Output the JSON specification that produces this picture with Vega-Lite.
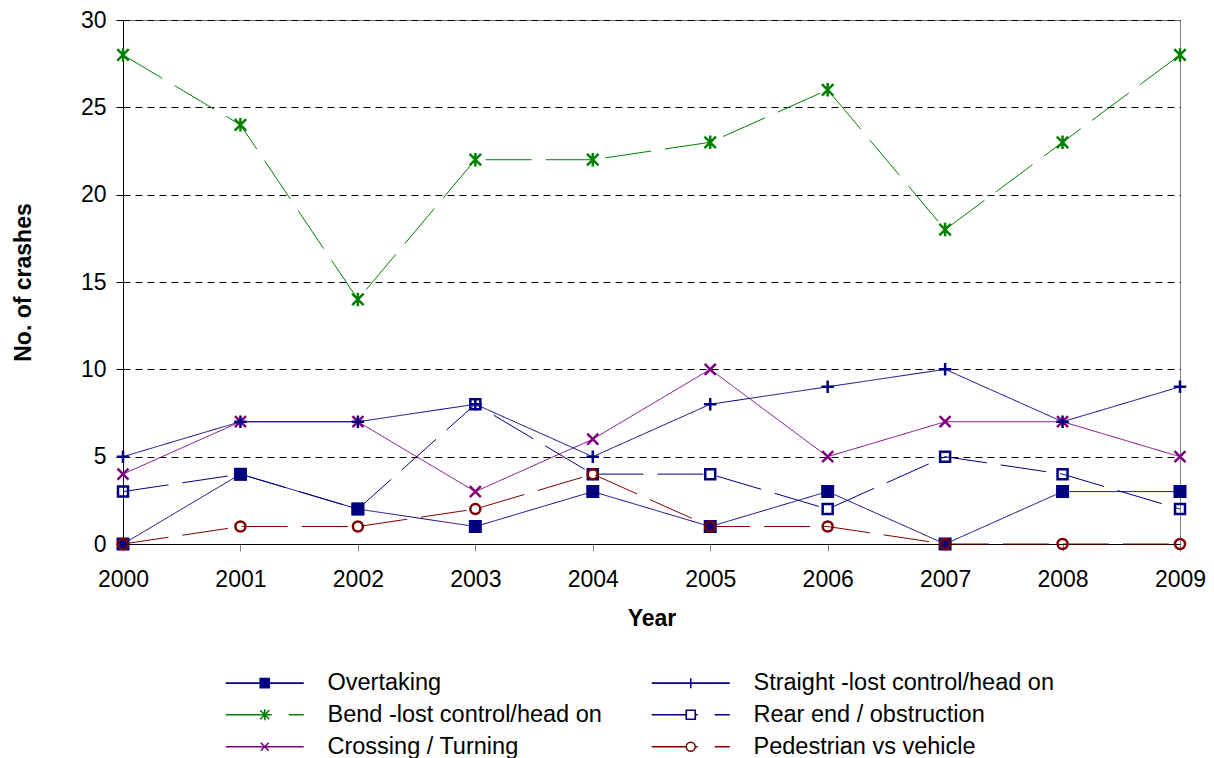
{
  "$schema": "https://vega.github.io/schema/vega-lite/v6.json",
  "width": 1057,
  "height": 524,
  "autosize": {"type": "none"},
  "padding": {"left": 123, "top": 20, "right": 34, "bottom": 214},
  "background": "white",
  "config": {
    "font": "Liberation Sans",
    "view": {"stroke": "#808080", "strokeWidth": 1},
    "legend": {"padding": 0}
  },
  "data": {
    "values": [
      {"series": "Overtaking", "year": 2000, "value": 0},
      {"series": "Overtaking", "year": 2001, "value": 4},
      {"series": "Overtaking", "year": 2002, "value": 2},
      {"series": "Overtaking", "year": 2003, "value": 1},
      {"series": "Overtaking", "year": 2004, "value": 3},
      {"series": "Overtaking", "year": 2005, "value": 1},
      {"series": "Overtaking", "year": 2006, "value": 3},
      {"series": "Overtaking", "year": 2007, "value": 0},
      {"series": "Overtaking", "year": 2008, "value": 3},
      {"series": "Overtaking", "year": 2009, "value": 3},
      {"series": "Bend -lost control/head on", "year": 2000, "value": 28},
      {"series": "Bend -lost control/head on", "year": 2001, "value": 24},
      {"series": "Bend -lost control/head on", "year": 2002, "value": 14},
      {"series": "Bend -lost control/head on", "year": 2003, "value": 22},
      {"series": "Bend -lost control/head on", "year": 2004, "value": 22},
      {"series": "Bend -lost control/head on", "year": 2005, "value": 23},
      {"series": "Bend -lost control/head on", "year": 2006, "value": 26},
      {"series": "Bend -lost control/head on", "year": 2007, "value": 18},
      {"series": "Bend -lost control/head on", "year": 2008, "value": 23},
      {"series": "Bend -lost control/head on", "year": 2009, "value": 28},
      {"series": "Crossing / Turning", "year": 2000, "value": 4},
      {"series": "Crossing / Turning", "year": 2001, "value": 7},
      {"series": "Crossing / Turning", "year": 2002, "value": 7},
      {"series": "Crossing / Turning", "year": 2003, "value": 3},
      {"series": "Crossing / Turning", "year": 2004, "value": 6},
      {"series": "Crossing / Turning", "year": 2005, "value": 10},
      {"series": "Crossing / Turning", "year": 2006, "value": 5},
      {"series": "Crossing / Turning", "year": 2007, "value": 7},
      {"series": "Crossing / Turning", "year": 2008, "value": 7},
      {"series": "Crossing / Turning", "year": 2009, "value": 5},
      {"series": "Straight -lost control/head on", "year": 2000, "value": 5},
      {"series": "Straight -lost control/head on", "year": 2001, "value": 7},
      {"series": "Straight -lost control/head on", "year": 2002, "value": 7},
      {"series": "Straight -lost control/head on", "year": 2003, "value": 8},
      {"series": "Straight -lost control/head on", "year": 2004, "value": 5},
      {"series": "Straight -lost control/head on", "year": 2005, "value": 8},
      {"series": "Straight -lost control/head on", "year": 2006, "value": 9},
      {"series": "Straight -lost control/head on", "year": 2007, "value": 10},
      {"series": "Straight -lost control/head on", "year": 2008, "value": 7},
      {"series": "Straight -lost control/head on", "year": 2009, "value": 9},
      {"series": "Rear end / obstruction", "year": 2000, "value": 3},
      {"series": "Rear end / obstruction", "year": 2001, "value": 4},
      {"series": "Rear end / obstruction", "year": 2002, "value": 2},
      {"series": "Rear end / obstruction", "year": 2003, "value": 8},
      {"series": "Rear end / obstruction", "year": 2004, "value": 4},
      {"series": "Rear end / obstruction", "year": 2005, "value": 4},
      {"series": "Rear end / obstruction", "year": 2006, "value": 2},
      {"series": "Rear end / obstruction", "year": 2007, "value": 5},
      {"series": "Rear end / obstruction", "year": 2008, "value": 4},
      {"series": "Rear end / obstruction", "year": 2009, "value": 2},
      {"series": "Pedestrian vs vehicle", "year": 2000, "value": 0},
      {"series": "Pedestrian vs vehicle", "year": 2001, "value": 1},
      {"series": "Pedestrian vs vehicle", "year": 2002, "value": 1},
      {"series": "Pedestrian vs vehicle", "year": 2003, "value": 2},
      {"series": "Pedestrian vs vehicle", "year": 2004, "value": 4},
      {"series": "Pedestrian vs vehicle", "year": 2005, "value": 1},
      {"series": "Pedestrian vs vehicle", "year": 2006, "value": 1},
      {"series": "Pedestrian vs vehicle", "year": 2007, "value": 0},
      {"series": "Pedestrian vs vehicle", "year": 2008, "value": 0},
      {"series": "Pedestrian vs vehicle", "year": 2009, "value": 0}
    ]
  },
  "encoding": {
    "x": {
      "field": "year", "type": "quantitative",
      "scale": {"domain": [2000, 2009], "nice": false, "zero": false},
      "axis": {
        "title": "Year", "values": [2000, 2001, 2002, 2003, 2004, 2005, 2006, 2007, 2008, 2009],
        "format": "d", "grid": false,
        "domainColor": "#000000", "domainWidth": 1,
        "tickColor": "#808080", "tickSize": 7, "tickWidth": 1,
        "labelFontSize": 23, "labelColor": "#000000", "labelPadding": 17,
        "labelFlush": false, "labelOverlap": false,
        "titleFontSize": 23, "titleFontWeight": "bold", "titleColor": "#000000", "titlePadding": 16
      }
    },
    "y": {
      "field": "value", "type": "quantitative",
      "scale": {"domain": [0, 30], "nice": false},
      "axis": {
        "title": "No. of crashes", "values": [0, 5, 10, 15, 20, 25, 30],
        "grid": true, "gridColor": "#000000", "gridDash": [7, 5], "gridWidth": 1,
        "domainColor": "#000000", "domainWidth": 1,
        "tickColor": "#000000", "tickSize": 7, "tickWidth": 1,
        "labelFontSize": 23, "labelColor": "#000000", "labelPadding": 10,
        "labelFlush": false,
        "titleFontSize": 23, "titleFontWeight": "bold", "titleColor": "#000000", "titlePadding": 45
      }
    }
  },
  "layer": [
    {
      "mark": {"type": "line", "strokeWidth": 1},
      "encoding": {
        "stroke": {
          "field": "series", "type": "nominal", "legend": null,
          "scale": {
            "domain": ["Overtaking", "Bend -lost control/head on", "Crossing / Turning", "Straight -lost control/head on", "Rear end / obstruction", "Pedestrian vs vehicle"],
            "range": ["#000080", "#008000", "#800080", "#000080", "#000080", "#800000"]
          }
        },
        "strokeDash": {
          "field": "series", "type": "nominal", "legend": null,
          "scale": {
            "domain": ["Overtaking", "Bend -lost control/head on", "Crossing / Turning", "Straight -lost control/head on", "Rear end / obstruction", "Pedestrian vs vehicle"],
            "range": [[1, 0], [46, 14], [1, 0], [1, 0], [46, 14], [46, 14]]
          }
        }
      }
    },
    {
      "mark": {"type": "point", "strokeWidth": 2.5, "size": 100, "opacity": 1},
      "encoding": {
        "shape": {
          "field": "series", "type": "nominal", "legend": null,
          "scale": {
            "domain": ["Overtaking", "Bend -lost control/head on", "Crossing / Turning", "Straight -lost control/head on", "Rear end / obstruction", "Pedestrian vs vehicle"],
            "range": [
              "M-1.05,-1.05H1.05V1.05H-1.05Z",
              "M-1.15,-1.15L1.15,1.15M-1.15,1.15L1.15,-1.15M0,-1.35V1.35",
              "M-1.1,-1.1L1.1,1.1M-1.1,1.1L1.1,-1.1",
              "M-1.25,0H1.25M0,-1.25V1.25",
              "M-1,-1H1V1H-1Z",
              "M1,0A1,1 0 1,1 -1,0A1,1 0 1,1 1,0Z"
            ]
          }
        },
        "stroke": {
          "field": "series", "type": "nominal", "legend": null,
          "scale": {
            "domain": ["Overtaking", "Bend -lost control/head on", "Crossing / Turning", "Straight -lost control/head on", "Rear end / obstruction", "Pedestrian vs vehicle"],
            "range": ["#000080", "#008000", "#800080", "#000080", "#000080", "#800000"]
          }
        },
        "fill": {
          "field": "series", "type": "nominal", "legend": null,
          "scale": {
            "domain": ["Overtaking", "Bend -lost control/head on", "Crossing / Turning", "Straight -lost control/head on", "Rear end / obstruction", "Pedestrian vs vehicle"],
            "range": ["#000080", "transparent", "transparent", "transparent", "transparent", "transparent"]
          }
        }
      }
    },
    {
      "transform": [{"filter": "datum.year < 0"}],
      "mark": {"type": "point", "opacity": 1},
      "encoding": {
        "shape": {
          "field": "series", "type": "nominal",
          "scale": {
            "domain": ["Overtaking", "Straight -lost control/head on", "Bend -lost control/head on", "Rear end / obstruction", "Crossing / Turning", "Pedestrian vs vehicle"],
            "range": [
              "M-3.9,0H3.9M-0.45,-0.45H0.45V0.45H-0.45Z",
              "M-3.9,0H3.9M0,-0.5V0.5",
              "M-3.9,0H0.7M2.4,0H3.9M-0.45,-0.45L0.45,0.45M-0.45,0.45L0.45,-0.45M0,-0.55V0.55",
              "M-3.9,0H-0.45M0.45,0H0.7M2.4,0H3.9M-0.45,-0.45H0.45V0.45H-0.45Z",
              "M-3.9,0H3.9M-0.4,-0.4L0.4,0.4M-0.4,0.4L0.4,-0.4",
              "M-3.9,0H-0.45M0.45,0H0.7M2.4,0H3.9M0.45,0A0.45,0.45 0 1,1 -0.45,0A0.45,0.45 0 1,1 0.45,0Z"
            ]
          },
          "legend": {
            "title": null, "orient": "none", "legendX": 130, "legendY": 651,
            "direction": "horizontal", "columns": 2, "columnPadding": 46, "rowPadding": 7,
            "symbolSize": 400, "symbolStrokeWidth": 1.6, "symbolOpacity": 1,
            "labelFontSize": 23.5, "labelColor": "#000000", "labelOffset": 51, "labelLimit": 500,
            "labelFont": "Liberation Sans", "padding": 0
          }
        },
        "stroke": {
          "field": "series", "type": "nominal",
          "scale": {
            "domain": ["Overtaking", "Straight -lost control/head on", "Bend -lost control/head on", "Rear end / obstruction", "Crossing / Turning", "Pedestrian vs vehicle"],
            "range": ["#000080", "#000080", "#008000", "#000080", "#800080", "#800000"]
          },
          "legend": {
            "title": null, "orient": "none", "legendX": 130, "legendY": 651,
            "direction": "horizontal", "columns": 2, "columnPadding": 46, "rowPadding": 7,
            "symbolSize": 400, "symbolStrokeWidth": 1.6, "symbolOpacity": 1,
            "labelFontSize": 23.5, "labelColor": "#000000", "labelOffset": 51, "labelLimit": 500,
            "labelFont": "Liberation Sans", "padding": 0
          }
        },
        "fill": {
          "field": "series", "type": "nominal",
          "scale": {
            "domain": ["Overtaking", "Straight -lost control/head on", "Bend -lost control/head on", "Rear end / obstruction", "Crossing / Turning", "Pedestrian vs vehicle"],
            "range": ["#000080", "transparent", "transparent", "#ffffff", "transparent", "#ffffff"]
          },
          "legend": {
            "title": null, "orient": "none", "legendX": 130, "legendY": 651,
            "direction": "horizontal", "columns": 2, "columnPadding": 46, "rowPadding": 7,
            "symbolSize": 400, "symbolStrokeWidth": 1.6, "symbolOpacity": 1,
            "labelFontSize": 23.5, "labelColor": "#000000", "labelOffset": 51, "labelLimit": 500,
            "labelFont": "Liberation Sans", "padding": 0
          }
        }
      }
    }
  ],
  "resolve": {
    "scale": {"shape": "independent", "stroke": "independent", "fill": "independent", "strokeDash": "independent"},
    "legend": {"shape": "independent", "stroke": "independent", "fill": "independent", "strokeDash": "independent"}
  }
}
